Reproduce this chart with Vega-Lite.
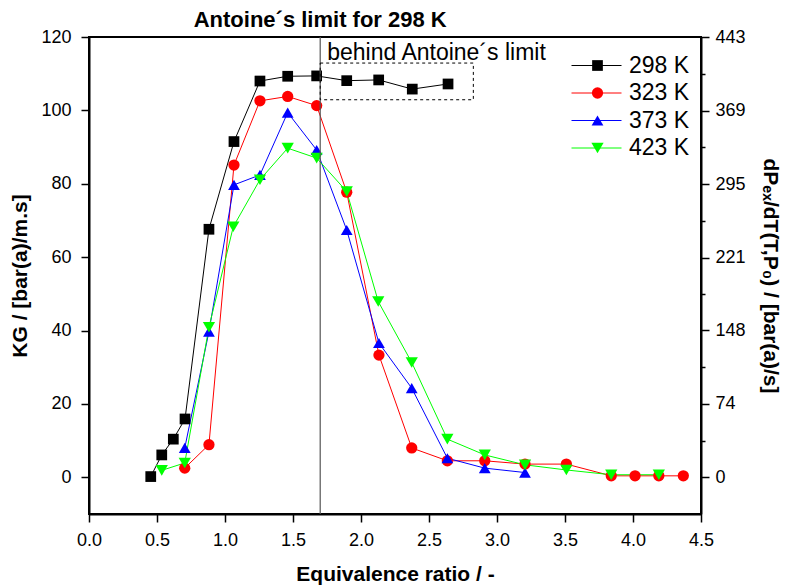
{
  "$schema": "https://vega.github.io/schema/vega-lite/v6.json",
  "autosize": "none",
  "width": 612,
  "height": 477,
  "padding": {"left": 89, "top": 37, "right": 91, "bottom": 74},
  "background": "white",
  "config": {
    "font": "Liberation Sans",
    "view": {"stroke": "black", "strokeWidth": 2},
    "axis": {
      "grid": false,
      "domainColor": "black",
      "domainWidth": 2,
      "tickColor": "black",
      "tickWidth": 1.5,
      "labelColor": "black",
      "labelFont": "Liberation Sans",
      "labelFontSize": 18,
      "titleFont": "Liberation Sans",
      "titleFontSize": 21,
      "titleFontWeight": "bold",
      "titleColor": "black"
    },
    "legend": {"padding": 0, "labelFont": "Liberation Sans", "labelColor": "black"}
  },
  "datasets": {
    "series": [
      {"phi": 0.454, "KG": 0.2, "T": "298 K"},
      {"phi": 0.535, "KG": 6.1, "T": "298 K"},
      {"phi": 0.62, "KG": 10.4, "T": "298 K"},
      {"phi": 0.706, "KG": 15.9, "T": "298 K"},
      {"phi": 0.882, "KG": 67.6, "T": "298 K"},
      {"phi": 1.066, "KG": 91.5, "T": "298 K"},
      {"phi": 1.257, "KG": 108.0, "T": "298 K"},
      {"phi": 1.461, "KG": 109.3, "T": "298 K"},
      {"phi": 1.674, "KG": 109.4, "T": "298 K"},
      {"phi": 1.895, "KG": 108.1, "T": "298 K"},
      {"phi": 2.13, "KG": 108.3, "T": "298 K"},
      {"phi": 2.377, "KG": 105.8, "T": "298 K"},
      {"phi": 2.64, "KG": 107.2, "T": "298 K"},
      {"phi": 0.704, "KG": 2.5, "T": "323 K"},
      {"phi": 0.882, "KG": 8.9, "T": "323 K"},
      {"phi": 1.066, "KG": 85.1, "T": "323 K"},
      {"phi": 1.257, "KG": 102.6, "T": "323 K"},
      {"phi": 1.461, "KG": 103.8, "T": "323 K"},
      {"phi": 1.674, "KG": 101.3, "T": "323 K"},
      {"phi": 1.895, "KG": 77.7, "T": "323 K"},
      {"phi": 2.132, "KG": 33.3, "T": "323 K"},
      {"phi": 2.373, "KG": 8.0, "T": "323 K"},
      {"phi": 2.635, "KG": 4.5, "T": "323 K"},
      {"phi": 2.91, "KG": 4.5, "T": "323 K"},
      {"phi": 3.206, "KG": 3.6, "T": "323 K"},
      {"phi": 3.51, "KG": 3.6, "T": "323 K"},
      {"phi": 3.84, "KG": 0.4, "T": "323 K"},
      {"phi": 4.015, "KG": 0.4, "T": "323 K"},
      {"phi": 4.19, "KG": 0.4, "T": "323 K"},
      {"phi": 4.37, "KG": 0.4, "T": "323 K"},
      {"phi": 0.704, "KG": 8.0, "T": "373 K"},
      {"phi": 0.882, "KG": 39.7, "T": "373 K"},
      {"phi": 1.066, "KG": 79.7, "T": "373 K"},
      {"phi": 1.257, "KG": 82.4, "T": "373 K"},
      {"phi": 1.461, "KG": 99.4, "T": "373 K"},
      {"phi": 1.674, "KG": 89.2, "T": "373 K"},
      {"phi": 1.895, "KG": 67.4, "T": "373 K"},
      {"phi": 2.132, "KG": 36.6, "T": "373 K"},
      {"phi": 2.373, "KG": 24.3, "T": "373 K"},
      {"phi": 2.635, "KG": 5.2, "T": "373 K"},
      {"phi": 2.91, "KG": 2.5, "T": "373 K"},
      {"phi": 3.206, "KG": 1.3, "T": "373 K"},
      {"phi": 0.535, "KG": 1.9, "T": "423 K"},
      {"phi": 0.704, "KG": 3.9, "T": "423 K"},
      {"phi": 0.882, "KG": 40.9, "T": "423 K"},
      {"phi": 1.061, "KG": 68.3, "T": "423 K"},
      {"phi": 1.257, "KG": 81.1, "T": "423 K"},
      {"phi": 1.461, "KG": 89.7, "T": "423 K"},
      {"phi": 1.674, "KG": 87.0, "T": "423 K"},
      {"phi": 1.895, "KG": 77.9, "T": "423 K"},
      {"phi": 2.127, "KG": 47.9, "T": "423 K"},
      {"phi": 2.373, "KG": 31.3, "T": "423 K"},
      {"phi": 2.635, "KG": 10.4, "T": "423 K"},
      {"phi": 2.91, "KG": 6.1, "T": "423 K"},
      {"phi": 3.206, "KG": 3.4, "T": "423 K"},
      {"phi": 3.51, "KG": 2.0, "T": "423 K"},
      {"phi": 3.84, "KG": 0.7, "T": "423 K"},
      {"phi": 4.19, "KG": 0.7, "T": "423 K"}
    ]
  },
  "layer": [
    {
      "layer": [
        {
          "data": {"name": "series"},
          "mark": {"type": "line", "strokeWidth": 1},
          "encoding": {
            "x": {
              "field": "phi", "type": "quantitative",
              "scale": {"domain": [0, 4.5], "nice": false, "zero": false},
              "axis": {
                "title": "Equivalence ratio / -",
                "values": [0, 0.25, 0.5, 0.75, 1, 1.25, 1.5, 1.75, 2, 2.25, 2.5, 2.75, 3, 3.25, 3.5, 3.75, 4, 4.25, 4.5],
                "labelExpr": "abs(datum.value*2 - round(datum.value*2)) < 0.001 ? format(datum.value, '.1f') : ''",
                "tickSize": {"condition": {"test": "abs(datum.value*2 - round(datum.value*2)) < 0.001", "value": 8}, "value": 4},
                "labelPadding": 9,
                "titlePadding": 14,
                "labelFlush": false
              }
            },
            "y": {
              "field": "KG", "type": "quantitative",
              "scale": {"domain": [-10, 120], "nice": false, "zero": false},
              "axis": {
                "title": "KG / [bar(a)/m.s]",
                "values": [0, 10, 20, 30, 40, 50, 60, 70, 80, 90, 100, 110, 120],
                "labelExpr": "datum.value % 20 === 0 ? datum.label : ''",
                "tickSize": {"condition": {"test": "datum.value % 20 === 0", "value": 8}, "value": 4},
                "labelPadding": 10,
                "titlePadding": 10,
                "labelFlush": false
              }
            },
            "stroke": {
              "field": "T", "type": "nominal",
              "scale": {"domain": ["298 K", "323 K", "373 K", "423 K"], "range": ["#000000", "#ff0000", "#0000ff", "#00ff00"]},
              "legend": {
                "title": null,
                "orient": "none",
                "legendX": 496,
                "legendY": 17,
                "symbolType": "M-5,0H5",
                "symbolSize": 100,
                "symbolStrokeWidth": 1,
                "labelFontSize": 23,
                "labelOpacity": 0,
                "labelOffset": 20,
                "rowPadding": 3.5
              }
            }
          }
        },
        {
          "data": {"name": "series"},
          "mark": {"type": "point", "filled": true, "opacity": 1},
          "encoding": {
            "x": {"field": "phi", "type": "quantitative"},
            "y": {"field": "KG", "type": "quantitative"},
            "color": {
              "field": "T", "type": "nominal",
              "scale": {"range": ["#000000", "#ff0000", "#0000ff", "#00ff00"]},
              "legend": {
                "title": null,
                "orient": "none",
                "legendX": 497,
                "legendY": 17,
                "symbolStrokeWidth": 0,
                "symbolOpacity": 1,
                "labelFontSize": 23,
                "labelOffset": 20,
                "rowPadding": 3.5
              }
            },
            "shape": {
              "field": "T", "type": "nominal",
              "scale": {"range": ["square", "circle", "triangle-up", "triangle-down"]},
              "legend": {
                "title": null,
                "orient": "none",
                "legendX": 497,
                "legendY": 17,
                "symbolStrokeWidth": 0,
                "symbolOpacity": 1,
                "labelFontSize": 23,
                "labelOffset": 20,
                "rowPadding": 3.5
              }
            },
            "size": {
              "field": "T", "type": "nominal",
              "scale": {"range": [115, 150, 180, 180]},
              "legend": {
                "title": null,
                "orient": "none",
                "legendX": 497,
                "legendY": 17,
                "symbolStrokeWidth": 0,
                "symbolOpacity": 1,
                "labelFontSize": 23,
                "labelOffset": 20,
                "rowPadding": 3.5
              }
            }
          }
        },
        {
          "data": {"values": [{}]},
          "mark": {"type": "rule", "color": "#555555", "strokeWidth": 1.2},
          "encoding": {"x": {"datum": 1.7, "type": "quantitative"}}
        },
        {
          "data": {"values": [{}]},
          "mark": {"type": "rect", "fill": null, "fillOpacity": 0, "stroke": "black", "strokeWidth": 1, "strokeDash": [3, 3]},
          "encoding": {
            "x": {"datum": 1.7, "type": "quantitative"},
            "x2": {"datum": 2.826},
            "y": {"datum": 102.9, "type": "quantitative"},
            "y2": {"datum": 112.9}
          }
        },
        {
          "data": {"values": [{}]},
          "mark": {"type": "text", "text": "behind Antoine´s limit", "align": "left", "baseline": "alphabetic", "dx": 7, "fontSize": 23, "color": "black"},
          "encoding": {
            "x": {"datum": 1.7, "type": "quantitative"},
            "y": {"datum": 113.8, "type": "quantitative"}
          }
        },
        {
          "data": {"values": [{}]},
          "mark": {"type": "text", "text": "Antoine´s limit for 298 K", "align": "center", "baseline": "alphabetic", "fontSize": 22, "fontWeight": "bold", "color": "black"},
          "encoding": {
            "x": {"datum": 1.7, "type": "quantitative"},
            "y": {"datum": 122.7, "type": "quantitative"}
          }
        }
      ]
    },
    {
      "data": {"values": [{}]},
      "mark": {"type": "rule", "opacity": 0},
      "encoding": {
        "y": {
          "datum": 0, "type": "quantitative",
          "scale": {"domain": [-36.917, 443], "nice": false, "zero": false},
          "axis": {
            "orient": "right",
            "title": "dPₑₓ/dT(T,P₀) / [bar(a)/s]",
            "values": [0, 37, 74, 111, 148, 184.5, 221, 258, 295, 332, 369, 406, 443],
            "labelExpr": "indexof([0, 74, 148, 221, 295, 369, 443], datum.value) >= 0 ? datum.label : ''",
            "tickSize": {"condition": {"test": "indexof([0, 74, 148, 221, 295, 369, 443], datum.value) >= 0", "value": 8}, "value": 4},
            "labelPadding": 6,
            "titlePadding": 14,
            "labelFlush": false
          }
        }
      }
    }
  ],
  "resolve": {"scale": {"y": "independent"}}
}
